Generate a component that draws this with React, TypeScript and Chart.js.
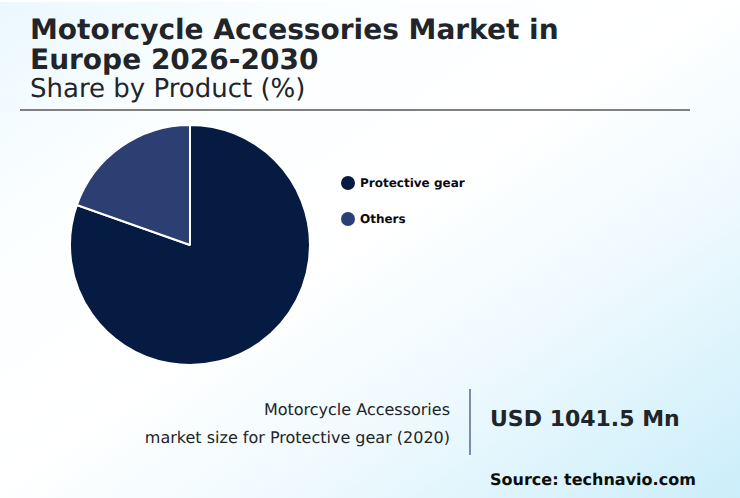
import React, { useEffect, useRef } from "react";
import { Chart, registerables } from "chart.js";

Chart.register(...registerables);

const categories = ["Protective gear", "Others"];
const shares = [80.4, 19.6];
const colors = ["#051b41", "#2b3f72"];
const titleLines = ["Motorcycle Accessories Market in", "Europe 2026-2030"];
const subtitle = "Share by Product (%)";
const captionLines = ["Motorcycle Accessories", "market size for Protective gear (2020)"];
const marketValue = "USD 1041.5 Mn";
const source = "Source: technavio.com";

const FONT = '"DejaVu Sans", sans-serif';

const abs = (left: number, top: number, extra: React.CSSProperties = {}): React.CSSProperties => ({
  position: "absolute",
  left,
  top,
  whiteSpace: "nowrap",
  ...extra,
});

export default function App() {
  const ref = useRef<HTMLCanvasElement | null>(null);

  useEffect(() => {
    if (!ref.current) return;
    const chart = new Chart(ref.current, {
      type: "pie",
      data: {
        labels: categories,
        datasets: [
          {
            data: shares,
            backgroundColor: colors,
            borderColor: "#ffffff",
            borderWidth: 2,
            hoverOffset: 0,
          },
        ],
      },
      options: {
        responsive: false,
        animation: false,
        layout: { padding: 0 },
        plugins: {
          legend: { display: false },
          title: { display: false },
          tooltip: { enabled: false },
        },
      },
    });
    return () => chart.destroy();
  }, []);

  return (
    <div
      style={{
        position: "fixed",
        inset: 0,
        width: 740,
        height: 498,
        overflow: "hidden",
        fontFamily: FONT,
        color: "#212529",
        textRendering: "geometricPrecision",
        background:
          "linear-gradient(146deg, #eaf8fe 0%, #fbfeff 22%, #ffffff 48%, #f0fafe 68%, #cbeefa 100%)",
      }}
    >
      <div style={abs(0, 0, { width: 740, height: 2, background: "#ffffff" })} />
      {titleLines.map((t, i) => (
        <div key={t} style={abs(30, 15 + i * 30, { fontSize: 28, fontWeight: 700, lineHeight: "30px" })}>
          {t}
        </div>
      ))}
      <div style={abs(30, 74, { fontSize: 26, lineHeight: "30px" })}>{subtitle}</div>
      <div style={abs(20, 109, { width: 670, height: 2, background: "#808080" })} />

      <canvas
        ref={ref}
        width={242}
        height={242}
        style={{ position: "absolute", left: 69, top: 124, width: 242, height: 242 }}
      />

      {categories.map((c, i) => (
        <div key={c}>
          <div
            style={abs(341, 176 + i * 36, {
              width: 14,
              height: 14,
              borderRadius: "50%",
              background: colors[i],
            })}
          />
          <div
            style={abs(360, 175 + i * 36, {
              fontSize: 12,
              fontWeight: 700,
              lineHeight: "16px",
              color: "#0a0a14",
            })}
          >
            {c}
          </div>
        </div>
      ))}

      {captionLines.map((t, i) => (
        <div
          key={t}
          style={abs(0, 400 + i * 28, {
            width: 450,
            textAlign: "right",
            fontSize: 16,
            lineHeight: "20px",
          })}
        >
          {t}
        </div>
      ))}
      <div style={abs(469, 389, { width: 2, height: 66, background: "#7b8ca8" })} />
      <div style={abs(490, 405, { fontSize: 22, fontWeight: 700, lineHeight: "30px" })}>{marketValue}</div>
      <div style={abs(490, 470, { fontSize: 16, fontWeight: 700, lineHeight: "20px", color: "#0d0d0d" })}>
        {source}
      </div>
    </div>
  );
}
